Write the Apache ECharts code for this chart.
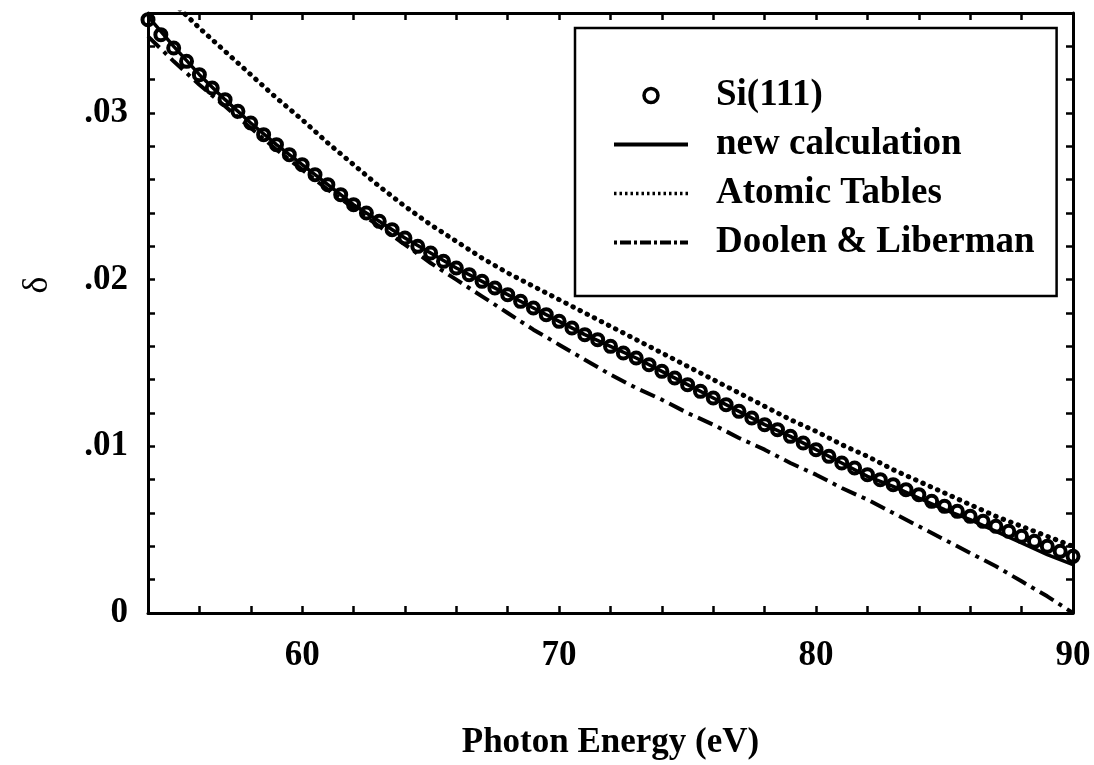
<!DOCTYPE html>
<html>
<head>
<meta charset="utf-8">
<script src="https://cdn.jsdelivr.net/npm/echarts@6/dist/echarts.min.js"></script>
<style>
  html, body { margin: 0; padding: 0; background: #fff; }
  #chart { width: 1094px; height: 765px; }
</style>
</head>
<body>
<div id="chart"></div>
<script>
// ---- data ----
const siEnergy = [54,54.5,55,55.5,56,56.5,57,57.5,58,58.5,59,59.5,60,60.5,61,61.5,62,62.5,63,63.5,64,64.5,65,65.5,66,66.5,67,67.5,68,68.5,69,69.5,70,70.5,71,71.5,72,72.5,73,73.5,74,74.5,75,75.5,76,76.5,77,77.5,78,78.5,79,79.5,80,80.5,81,81.5,82,82.5,83,83.5,84,84.5,85,85.5,86,86.5,87,87.5,88,88.5,89,89.5,90];
const siDelta = [.0356,.0347,.0339,.0331,.0323,.0315,.0308,.0301,.0294,.0287,.0281,.0275,.0269,.0263,.0257,.0251,.0245,.0240,.0235,.0230,.0225,.0220,.0216,.0211,.0207,.0203,.0199,.0195,.0191,.0187,.0183,.0179,.0175,.0171,.0167,.0164,.0160,.0156,.0153,.0149,.0145,.0141,.0137,.0133,.0129,.0125,.0121,.0117,.0113,.0110,.0106,.0102,.0098,.0094,.0090,.0087,.0083,.0080,.0077,.0074,.0071,.0067,.0064,.0061,.0058,.0055,.0052,.0049,.0046,.0043,.0040,.0037,.0034];

const calcEnergy = [54,55,56,57,58,59,60,61,62,63,64,65,66,67,68,69,70,71,72,73,74,75,76,77,78,79,80,81,82,83,84,85,86,87,88,89,90];
const newCalc = [.0358,.0340,.0323,.0308,.0294,.0281,.0269,.0257,.0245,.0235,.0225,.0216,.0207,.0199,.0191,.0183,.0175,.0167,.0160,.0153,.0145,.0137,.0129,.0121,.0113,.0106,.0098,.0090,.0082,.0076,.0069,.0062,.0056,.0049,.0042,.0035,.0029];

const atomicEnergy = [55,56,57,58,59,60,61,62,63,64,65,66,67,68,69,70,71,72,73,74,75,76,77,78,79,80,81,82,83,84,85,86,87,88,89,90];
const atomicTables = [.0366,.0351,.0337,.0323,.0309,.0296,.0282,.0269,.0256,.0244,.0233,.0223,.0213,.0204,.0196,.0188,.0180,.0172,.0164,.0156,.0148,.0140,.0132,.0124,.0116,.0109,.0101,.0094,.0086,.0079,.0072,.0065,.0058,.0052,.0046,.0040];

const doolenEnergy = [54,55,56,57,58,59,60,61,62,63,64,65,66,67,68,69,70,71,72,73,74,75,76,77,78,79,80,81,82,83,84,85,86,87,88,89,90];
const doolenLiberman = [.0346,.0331,.0317,.0304,.0291,.0278,.0266,.0254,.0243,.0232,.0221,.0210,.0200,.0190,.0180,.0170,.0161,.0152,.0143,.0135,.0128,.0120,.0113,.0105,.0098,.0090,.0083,.0075,.0068,.0060,.0052,.0044,.0036,.0028,.0019,.0010,.0000];

const xLabels = [60, 70, 80, 90];
const yLabels = [0, 0.01, 0.02, 0.03];

const seriesNames = ['Si(111)', 'new calculation', 'Atomic Tables', 'Doolen & Liberman'];
const xTitle = 'Photon Energy (eV)';
const yTitle = 'δ';

// ---- chart ----
const FONT = '"Liberation Serif", "DejaVu Serif", serif';
const pairs = (xs, ys) => xs.map((x, i) => [x, ys[i]]);

const isLabel = (v, list) => list.some(l => Math.abs(v - l) < 1e-9);
const fmtY = v => {
  const hit = yLabels.find(l => Math.abs(v - l) < 1e-9);
  if (hit === undefined) return '';
  if (hit === 0) return '0';
  return '.' + String(Math.round(hit * 100)).padStart(2, '0');
};
const fmtX = v => (isLabel(v, xLabels) ? String(Math.round(v)) : '');

const baseX = {
  type: 'value', min: 54, max: 90, interval: 2,
  splitLine: { show: false },
  axisLine: { show: true, onZero: false, lineStyle: { color: '#000', width: 3 } },
  axisTick: { show: true, inside: true, length: 7, lineStyle: { color: '#000', width: 2.5 } }
};
const baseY = {
  type: 'value', min: 0, max: 0.036, interval: 0.002,
  splitLine: { show: false },
  axisLine: { show: true, onZero: false, lineStyle: { color: '#000', width: 3 } },
  axisTick: { show: true, inside: true, length: 7, lineStyle: { color: '#000', width: 2.5 } }
};

const chart = echarts.init(document.getElementById('chart'), null, { renderer: 'canvas' });
chart.setOption({
  animation: false,
  backgroundColor: '#fff',
  grid: { left: 148, right: 21, top: 13, bottom: 145, containLabel: false },
  xAxis: [
    Object.assign({}, baseX, {
      position: 'bottom',
      name: xTitle, nameLocation: 'middle', nameGap: 112,
      nameTextStyle: { fontFamily: FONT, fontWeight: 'bold', fontSize: 35, color: '#000' },
      axisLabel: { show: true, formatter: fmtX, margin: 25, fontFamily: FONT, fontWeight: 'bold', fontSize: 35, color: '#000', showMinLabel: true, showMaxLabel: true, hideOverlap: false }
    }),
    Object.assign({}, baseX, { position: 'top', axisLabel: { show: false } })
  ],
  yAxis: [
    Object.assign({}, baseY, {
      position: 'left',
      name: yTitle, nameLocation: 'middle', nameGap: 92, nameRotate: 90,
      nameTextStyle: { fontFamily: FONT, fontSize: 36, color: '#000', padding: [0, 0, 0, 56] },
      axisLabel: { show: true, formatter: fmtY, margin: 20, fontFamily: FONT, fontWeight: 'bold', fontSize: 35, color: '#000', showMinLabel: true, showMaxLabel: true, hideOverlap: false }
    }),
    Object.assign({}, baseY, { position: 'right', axisLabel: { show: false } })
  ],
  legend: {
    show: true,
    orient: 'vertical',
    left: 575, top: 28,
    padding: [49, 22, 35, 37],
    itemGap: 12,
    itemWidth: 74, itemHeight: 14,
    borderColor: '#000', borderWidth: 2.5, borderRadius: 0,
    backgroundColor: '#fff',
    textStyle: { fontFamily: FONT, fontWeight: 'bold', fontSize: 37, lineHeight: 37, color: '#000', padding: [0, 0, 0, 23] },
    data: [
      { name: seriesNames[0], itemStyle: { color: '#fff', borderColor: '#000', borderWidth: 3.5 } },
      { name: seriesNames[1], itemStyle: { opacity: 0 }, lineStyle: { width: 4, color: '#000', type: 'solid' } },
      { name: seriesNames[2], itemStyle: { opacity: 0 }, lineStyle: { width: 3.5, color: '#000', type: [2.5, 3], cap: 'butt' } },
      { name: seriesNames[3], itemStyle: { opacity: 0 }, lineStyle: { width: 4, color: '#000', type: [3, 3, 11, 3], cap: 'butt' } }
    ]
  },
  series: [
    {
      name: seriesNames[2], type: 'line', data: pairs(atomicEnergy, atomicTables),
      showSymbol: false, symbol: 'none', clip: true, z: 2,
      lineStyle: { color: '#000', width: 5, type: [0.5, 7.5], cap: 'round' },
      itemStyle: { color: '#000' }
    },
    {
      name: seriesNames[3], type: 'line', data: pairs(doolenEnergy, doolenLiberman),
      showSymbol: false, symbol: 'none', clip: true, z: 2,
      lineStyle: { color: '#000', width: 4, type: [16, 6, 4, 6], cap: 'butt' },
      itemStyle: { color: '#000' }
    },
    {
      name: seriesNames[1], type: 'line', data: pairs(calcEnergy, newCalc),
      showSymbol: false, symbol: 'none', clip: true, z: 3,
      lineStyle: { color: '#000', width: 3.5, type: 'solid' },
      itemStyle: { color: '#000' }
    },
    {
      name: seriesNames[0], type: 'scatter', data: pairs(siEnergy, siDelta),
      symbol: 'circle', symbolSize: 11, clip: true, z: 4,
      itemStyle: { color: 'rgba(255,255,255,0)', borderColor: '#000', borderWidth: 4, opacity: 1 }
    }
  ]
});
</script>
</body>
</html>
